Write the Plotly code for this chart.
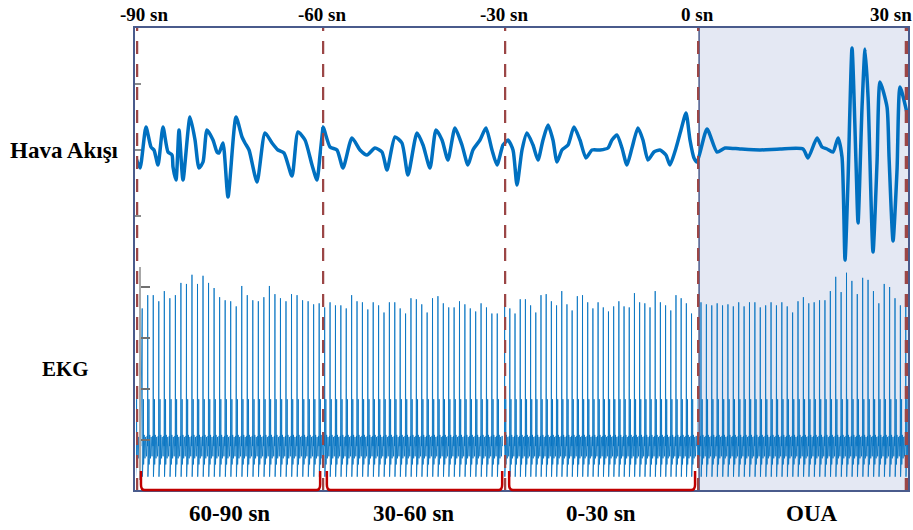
import plotly.graph_objects as go

# ---------------- data ----------------
seg_bounds = [-90, -60, -30, 0, 30]            # seconds (window boundaries)
tick_labels = ["-90 sn", "-60 sn", "-30 sn", "0 sn", "30 sn"]
window_labels = ["60-90 sn", "30-60 sn", "0-30 sn", "OUA"]
row_labels = ["Hava Akışı", "EKG"]

# Airflow (arbitrary units)
air_t = [-90.0, -89.35, -88.39, -87.58, -87.10, -86.45, -85.65, -84.84, -84.19, -84.03,
         -83.55, -83.06, -82.42, -81.29, -80.48, -79.84, -79.19, -78.55, -77.58, -76.94,
         -76.61, -75.97, -75.16, -73.87, -72.90, -72.42, -71.77, -70.48, -69.19, -68.06,
         -67.10, -66.13, -64.84, -63.87, -62.74, -61.61, -60.81, -60.32,
         -59.84, -58.68, -57.53, -56.54, -55.06, -53.74, -52.58, -51.27, -50.11, -49.29,
         -47.97, -46.82, -45.83, -44.34, -43.35, -42.20, -41.21, -40.22, -39.24, -38.08,
         -36.93, -35.94, -35.12, -33.96, -32.97, -31.98, -31.15, -30.16,
         -29.38, -28.60, -27.98, -27.20, -26.43, -25.49, -24.72, -23.94, -23.16, -22.39,
         -21.76, -20.99, -20.05, -19.12, -18.19, -17.26, -16.32, -15.08, -13.84, -13.22,
         -12.44, -11.66, -10.89, -10.11, -9.18, -8.40, -7.62, -6.69, -5.76, -4.83,
         -4.21, -3.26, -2.49, -1.71, -1.09, -0.47, 0.0,
         1.43, 2.86, 4.00, 6.14, 9.00, 11.86, 15.15, 15.86, 17.15, 17.86,
         18.58, 19.43, 20.15, 20.72, 21.15, 21.58, 22.15, 22.72, 23.01, 23.58,
         24.01, 24.44, 25.15, 25.72, 26.15, 27.15, 27.44, 28.01, 28.58, 29.01,
         30.01, 30.3]
air_v = [-0.8, -1.8, 2.3, 0.3, 0.0, -1.5, 2.3, -0.2, -0.5, -1.7,
         -3.0, 2.0, -3.0, 3.3, 1.0, -1.8, -1.2, 2.0, 1.0, -0.2,
         -0.3, 0.7, -4.7, 3.3, 1.3, 0.7, 0.0, -3.2, 1.7, 0.7,
         0.0, -0.3, -2.6, 1.8, 1.0, -1.5, -3.0, -0.5,
         2.3, 0.3, 0.0, -1.8, 1.2, 0.0, -0.5, 0.2, -0.2, -2.0,
         1.3, 0.7, -2.5, 1.7, 0.5, -1.8, 2.0, 1.0, -1.0, 2.2,
         0.5, -1.5, 0.0, 1.0, 2.2, 0.0, -1.5, 0.5,
         1.0, 0.0, -3.5, 0.0, 1.7, 0.5, -1.0, 1.0, 2.5, 1.0,
         -1.2, 0.0, 0.5, 2.3, 1.0, -0.8, 0.0, 0.0, 0.2, 1.0,
         1.5, 0.2, -1.5, 0.2, 2.2, 1.0, -1.0, -0.2, 0.0, -0.5,
         -1.5, 0.2, 2.0, 3.7, 1.0, -0.8, -1.2,
         2.1, -0.2, 0.2, 0.1, 0.0, 0.1, 0.1, -0.8, 1.2, 0.3,
         0.1, -0.2, 1.2, -0.7, -11.0, -3.0, 10.2, -1.3, -7.3, 4.3,
         10.1, 5.3, -10.2, -1.3, 6.8, 4.3, -0.7, -9.1, -2.0, 6.3,
         3.7, 1.5]

# ECG (mV): first beat time and RR interval per window, R-peak heights per beat
ecg_first_beat = [-89.0, -59.56, -29.9, 0.57]
ecg_rr = [0.892, 0.889, 0.807, 0.77]
ecg_r_amp = [
    [1.29, 1.42, 1.42, 1.36, 1.46, 1.39, 1.42, 1.54, 1.53, 1.62, 1.53, 1.61, 1.54, 1.49,
     1.40, 1.37, 1.36, 1.31, 1.51, 1.42, 1.37, 1.36, 1.40, 1.51, 1.43, 1.39, 1.36, 1.43,
     1.42, 1.37, 1.36, 1.33, 1.34],
    [1.30, 1.35, 1.32, 1.32, 1.29, 1.42, 1.36, 1.35, 1.28, 1.35, 1.32, 1.25, 1.35, 1.35,
     1.29, 1.24, 1.39, 1.38, 1.33, 1.25, 1.39, 1.41, 1.34, 1.30, 1.30, 1.36, 1.33, 1.29,
     1.26, 1.34, 1.30, 1.24, 1.24],
    [1.32, 1.29, 1.24, 1.38, 1.38, 1.32, 1.25, 1.42, 1.43, 1.36, 1.32, 1.46, 1.33, 1.27,
     1.41, 1.42, 1.35, 1.29, 1.35, 1.30, 1.26, 1.31, 1.36, 1.31, 1.30, 1.44, 1.35, 1.34,
     1.30, 1.46, 1.35, 1.32, 1.27, 1.42, 1.39, 1.34, 1.24],
    [1.35, 1.33, 1.32, 1.34, 1.32, 1.33, 1.31, 1.35, 1.31, 1.35, 1.35, 1.30, 1.32, 1.35,
     1.32, 1.35, 1.31, 1.25, 1.36, 1.40, 1.34, 1.35, 1.37, 1.37, 1.46, 1.60, 1.45, 1.64,
     1.56, 1.43, 1.59, 1.57, 1.46, 1.34, 1.53, 1.50, 1.39, 1.32, 1.42],
]
# one beat shape (fraction of RR, mV); None marks the R peak
ecg_phase = [0.0, 0.035, 0.08, 0.16, 0.22, 0.26, 0.36, 0.50, 0.62, 0.78, 0.90, 0.965]
ecg_shape = [None, -0.36, 0.04, -0.18, 0.40, -0.24, 0.05, -0.18, 0.03, -0.16, 0.04, -0.06]

# ---------------- layout constants ----------------
W, H = 913, 530
L, R, T, B = 134, 4, 27, 39
PW, PH = W - L - R, H - T - B
seg_px = [136, 322, 504, 697, 909]
seg_range_end = [-60, -30, 0, 30.29]


def px_x(p):
    return (p - L) / PW


def px_y(p):
    return (H - B - p) / PH


FRAME = "#4a5b8c"
DASH = "#9b4646"
BLUE = "#0070c0"
RED = "#c00000"
FONT = "Liberation Serif, Times New Roman, serif"

fig = go.Figure()
axn = ["x", "x2", "x3", "x4"]

for i in range(4):
    lo, hi = seg_bounds[i], seg_bounds[i + 1]
    # airflow: points inside plus one neighbour on each side (clipped by the axis)
    idx = [k for k, t in enumerate(air_t) if lo <= t <= hi]
    k0, k1 = max(idx[0] - 1, 0), min(idx[-1] + 1, len(air_t) - 1)
    fig.add_trace(go.Scatter(x=air_t[k0:k1 + 1], y=air_v[k0:k1 + 1], mode="lines",
                             line=dict(color=BLUE, width=3.5, shape="spline", smoothing=0.6),
                             xaxis=axn[i], yaxis="y", hoverinfo="skip"))
    # ecg
    t0, rr, amps = ecg_first_beat[i], ecg_rr[i], ecg_r_amp[i]
    beat_t = [min(t0 - rr, lo - 0.1)] + [t0 + k * rr for k in range(len(amps))]
    beat_a = [amps[0]] + amps
    et, ev = [], []
    for bt, a in zip(beat_t, beat_a):
        for ph, sv in zip(ecg_phase, ecg_shape):
            et.append(bt + ph * rr)
            ev.append(a if sv is None else sv)
    fig.add_trace(go.Scatter(x=et, y=ev, mode="lines",
                             line=dict(color="rgba(0,112,192,0.8)", width=1),
                             xaxis=axn[i], yaxis="y2", hoverinfo="skip"))

layout = dict(width=W, height=H, margin=dict(l=L, r=R, t=T, b=B),
              paper_bgcolor="white", plot_bgcolor="rgba(0,0,0,0)", showlegend=False)
for i in range(4):
    key = "xaxis" if i == 0 else f"xaxis{i + 1}"
    layout[key] = dict(domain=[px_x(seg_px[i]), px_x(seg_px[i + 1])],
                       range=[seg_bounds[i], seg_range_end[i]], visible=False,
                       anchor="y", fixedrange=True)
# airflow axis: whole plot height, 10 px per unit, 0 at pixel 150
layout["yaxis"] = dict(domain=[0, 1], range=[(150 - (H - B)) / 10, (150 - T) / 10],
                       showgrid=False, zeroline=False, showline=False, showticklabels=False,
                       ticks="inside", ticklen=6, tickcolor="#8a8a8a", tickwidth=1.5,
                       tickvals=[-6.6, 0, 6.6], anchor="free", position=0, fixedrange=True)
# ECG axis: 102 px per mV, 0 mV at pixel 440
layout["yaxis2"] = dict(domain=[px_y(480), px_y(267)],
                        range=[(440 - 480) / 102, (440 - 267) / 102],
                        showgrid=False, zeroline=False, showline=True, linecolor="#a8a8a8",
                        linewidth=2, showticklabels=False, ticks="inside", ticklen=9,
                        tickcolor="#707070", tickwidth=1.5, tickvals=[0, 0.5, 1, 1.5],
                        anchor="free", position=px_x(140), fixedrange=True)

shapes = []
# OUA shaded region
shapes.append(dict(type="rect", xref="x4", yref="paper", x0=0.3, x1=30.29, y0=0, y1=1,
                   fillcolor="#e4e8f3", line=dict(color=FRAME, width=1.5), layer="below"))
# dashed window boundaries
for j, b in enumerate(seg_bounds):
    ax = axn[min(j, 3)]
    shapes.append(dict(type="line", xref=ax, yref="paper", x0=b, x1=b, y0=0, y1=1,
                       line=dict(color=DASH, width=4.5, dash="13px,10px"), layer="above"))
# frame
shapes.append(dict(type="rect", xref="paper", yref="paper", x0=0, x1=1, y0=0, y1=1,
                   line=dict(color=FRAME, width=2), layer="above"))
# red brackets under the three pre-apnea windows
yt, yb = px_y(471), px_y(490)
for i in range(3):
    a0, a1 = seg_bounds[i] + 0.8, seg_bounds[i + 1] - 0.3
    d = 0.6
    path = (f"M {a0},{yt} L {a0},{yb + 0.012} Q {a0},{yb} {a0 + d},{yb} "
            f"L {a1 - d},{yb} Q {a1},{yb} {a1},{yb + 0.012} L {a1},{yt}")
    shapes.append(dict(type="path", xref=axn[i], yref="paper", path=path,
                       line=dict(color=RED, width=2.5), layer="above"))
layout["shapes"] = shapes

ann = []
for j, (b, lab) in enumerate(zip(seg_bounds, tick_labels)):
    ax = axn[min(j, 3)]
    anchor, shift = "center", 0
    if j == 0:
        anchor, shift = "left", -18
    elif j == len(seg_bounds) - 1:
        anchor, shift = "right", 7
    ann.append(dict(x=b, y=px_y(15), xref=ax, yref="paper", text=f"<b>{lab}</b>",
                    showarrow=False, xanchor=anchor, yanchor="middle", xshift=shift,
                    font=dict(family=FONT, size=19, color="black")))
for i, lab in enumerate(window_labels):
    mid = (seg_bounds[i] + seg_bounds[i + 1]) / 2
    ann.append(dict(x=mid, y=px_y(513), xref=axn[i], yref="paper", text=f"<b>{lab}</b>",
                    showarrow=False, xanchor="center", yanchor="middle",
                    xshift=10 if i == 3 else 0,
                    font=dict(family=FONT, size=23, color="black")))
ann.append(dict(x=px_x(121), y=px_y(150), xref="paper", yref="paper",
                text=f"<b>{row_labels[0]}</b>", showarrow=False, xanchor="right",
                yanchor="middle", font=dict(family=FONT, size=23, color="black")))
ann.append(dict(x=px_x(91), y=px_y(369), xref="paper", yref="paper",
                text=f"<b>{row_labels[1]}</b>", showarrow=False, xanchor="right",
                yanchor="middle", font=dict(family=FONT, size=21, color="black")))
layout["annotations"] = ann

fig.update_layout(**layout)
fig.write_html("out.html")
